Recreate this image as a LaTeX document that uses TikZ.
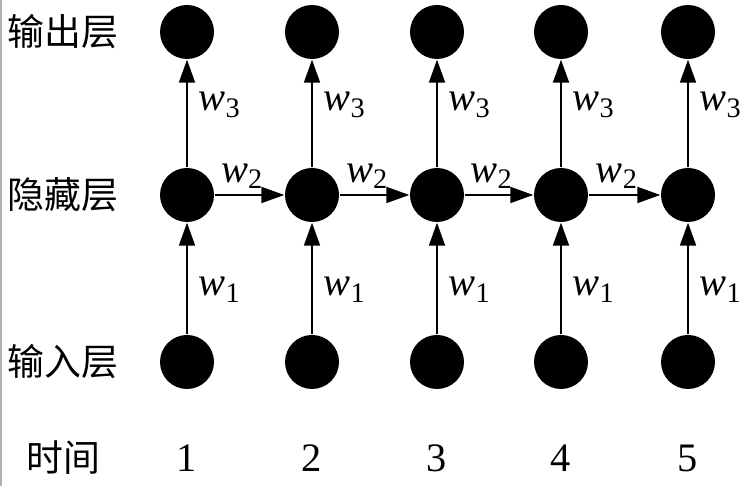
\documentclass[tikz,border=0pt]{standalone}
\usepackage{fontspec}
\setmainfont{Liberation Serif}
\newfontfamily\cjk{Noto Sans CJK SC}
\usetikzlibrary{positioning,arrows.meta}
\newcommand{\wlabel}[1]{\textit{w}\textsubscript{#1}}

\begin{document}
\begin{tikzpicture}[
    neuron/.style={circle,fill=black,minimum size=0.54cm,inner sep=0pt},
    link/.style={-{Triangle[length=6.5pt,width=4.5pt]},line width=0.6pt},
    wlab/.style={font=\fontsize{11.5}{13}\selectfont,inner sep=1pt},
    layer/.style={font=\cjk\fontsize{10.5}{12}\selectfont}
]
    \useasboundingbox (0,0) rectangle (7.40,4.86);
    \draw[gray!60,line width=0.3pt] (0.01,0) -- (0.01,4.86);
    % layer names
    \node[layer] (lout) at (0.63,4.54) {输出层};
    \node[layer] (lhid) at (0.63,2.91) {隐藏层};
    \node[layer] (lin) at (0.63,1.24) {输入层};
    \node[layer] (ltime) at (0.63,0.28) {时间};
    % one column per time step
    \foreach \i/\x in {1/1.87,2/3.12,3/4.37,4/5.61,5/6.88} {
        \node[neuron] (in\i) at (\x,1.24) {};
        \node[neuron] (hid\i) at (\x,2.91) {};
        \node[neuron] (out\i) at (\x,4.54) {};
        \node[wlab] (t\i) at (\x,0.28) {\i};
        \draw[link] (in\i) -- node[wlab,anchor=west,xshift=2pt,pos=0.4] {\wlabel{1}} (hid\i);
        \draw[link] (hid\i) -- node[wlab,anchor=west,xshift=2pt,pos=0.58] {\wlabel{3}} (out\i);
    }
    % recurrent links
    \foreach \i [count=\j from 2] in {1,...,4}
        \draw[link] (hid\i) -- node[wlab,anchor=south,pos=0.4,yshift=0.5pt] {\wlabel{2}} (hid\j);
\end{tikzpicture}
\end{document}
